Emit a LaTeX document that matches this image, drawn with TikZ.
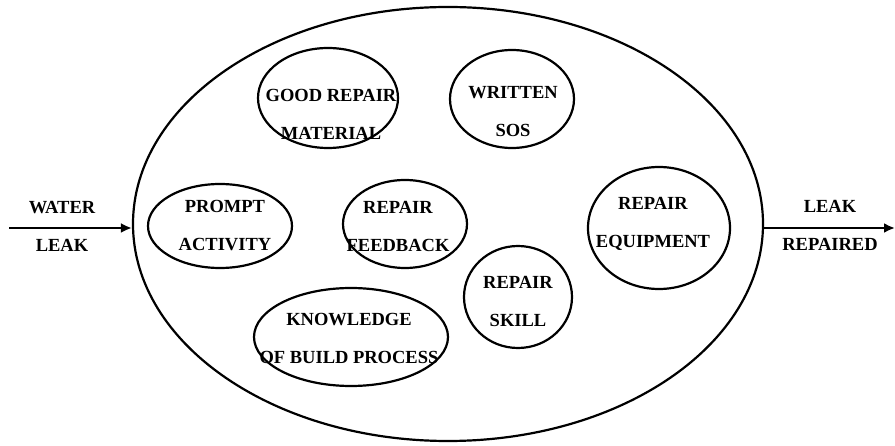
\documentclass[tikz,border=0pt]{standalone}
\usepackage{fontspec}
\setmainfont{Liberation Serif}
\usetikzlibrary{shapes.geometric, arrows.meta, positioning}
\tikzset{
	bubble/.style={ellipse, draw, line width=2.2pt, inner sep=0pt},
	word/.style={align=center, inner sep=0pt, font=\bfseries\fontsize{18.5}{38}\selectfont},
	flow/.style={line width=2.2pt, -{Latex[length=11pt,width=10pt]}}
}

\begin{document}
\begin{tikzpicture}[x=1pt, y=-1pt]
	\useasboundingbox (0,0) rectangle (895,446);
	% the whole repair system
	\node[bubble, minimum width=630pt, minimum height=434pt] (sys) at (448,224) {};
	% factors inside
	\node[bubble, minimum width=140pt, minimum height=100pt] (good) at (328,98) {};
	\node[bubble, minimum width=124pt, minimum height=98pt] (sos) at (512,99) {};
	\node[bubble, minimum width=144pt, minimum height=84pt] (prompt) at (220,226) {};
	\node[bubble, minimum width=124pt, minimum height=88pt] (feed) at (405,224) {};
	\node[bubble, minimum width=142pt, minimum height=122pt] (equip) at (659,228) {};
	\node[bubble, minimum width=108pt, minimum height=102pt] (skill) at (518,297) {};
	\node[bubble, minimum width=194pt, minimum height=98pt] (know) at (351,337) {};
	\node[word] (goodtxt) at ([shift={(3,16)}]good) {GOOD REPAIR\\MATERIAL};
	\node[word] (sostxt) at ([shift={(1,13)}]sos) {WRITTEN\\SOS};
	\node[word] (prompttxt) at ([shift={(5,0)}]prompt) {PROMPT\\ACTIVITY};
	\node[word] (feedtxt) at ([shift={(-7,2)}]feed) {REPAIR\\FEEDBACK};
	\node[word] (equiptxt) at ([shift={(-6,-4)}]equip) {REPAIR\\EQUIPMENT};
	\node[word] (skilltxt) at ([shift={(0,4)}]skill) {REPAIR\\SKILL};
	\node[word] (knowtxt) at ([shift={(-2,1)}]know) {KNOWLEDGE\\OF BUILD PROCESS};
	% input and output
	\coordinate (in) at (9,228);
	\coordinate (out) at (895,228);
	\draw[flow] (in) -- (in -| sys.west);
	\draw[flow] (out -| sys.east) -- (out);
	\node[word] (inlab) at (62,226) {WATER\\LEAK};
	\node[word] (outlab) at (830,225) {LEAK\\REPAIRED};
\end{tikzpicture}
\end{document}
